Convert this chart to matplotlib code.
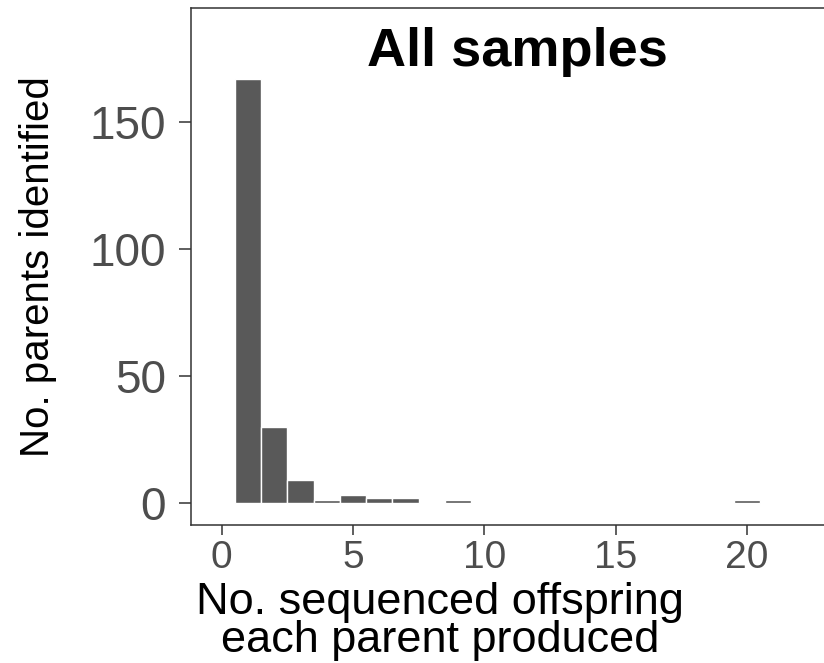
import matplotlib
matplotlib.use("Agg")
import matplotlib.pyplot as plt

# 数据：每个亲本产生的后代数 -> 亲本数量
offspring = [1, 2, 3, 4, 5, 6, 7, 9, 20]
n_parents = [167, 30, 9, 1, 3, 2, 2, 1, 1]
x_ticks = [0, 5, 10, 15, 20]
y_ticks = [0, 50, 100, 150]

plt.rcParams["font.family"] = ["Liberation Sans", "DejaVu Sans"]

W, H = 824, 663
fig = plt.figure(figsize=(W / 100, H / 100), dpi=100)
ax = fig.add_axes([191 / W, 138 / H, (W - 191) / W, 517 / H])

ax.bar(offspring, n_parents, width=1.0, color="#595959",
       edgecolor="white", linewidth=1.0)

ax.set_xlim(-1.17, 22.93)
ax.set_ylim(-8.66, 195)
ax.set_xticks(x_ticks)
ax.set_yticks(y_ticks)

for s in ["left", "bottom", "top"]:
    ax.spines[s].set_color("#333333")
    ax.spines[s].set_linewidth(1.1)
ax.spines["right"].set_visible(False)

ax.tick_params(axis="x", length=7, width=1.1, color="#333333",
               labelsize=28, labelcolor="#4D4D4D", pad=4)
ax.tick_params(axis="y", length=9, width=1.1, color="#333333",
               labelsize=33, labelcolor="#4D4D4D", pad=9)

ax.text(11.24, 172, "All samples", ha="center", va="baseline",
        fontsize=39, fontweight="bold", color="black")

ax.text(0.393, -0.11, "No. sequenced offspring\neach parent produced",
        transform=ax.transAxes, ha="center", va="top",
        multialignment="center", fontsize=32.5, color="black",
        linespacing=0.9)
ax.text(-0.242, 0.5, "No. parents identified", transform=ax.transAxes,
        rotation=90, ha="center", va="center", fontsize=29, color="black")

fig.savefig("out.png", dpi=100)
